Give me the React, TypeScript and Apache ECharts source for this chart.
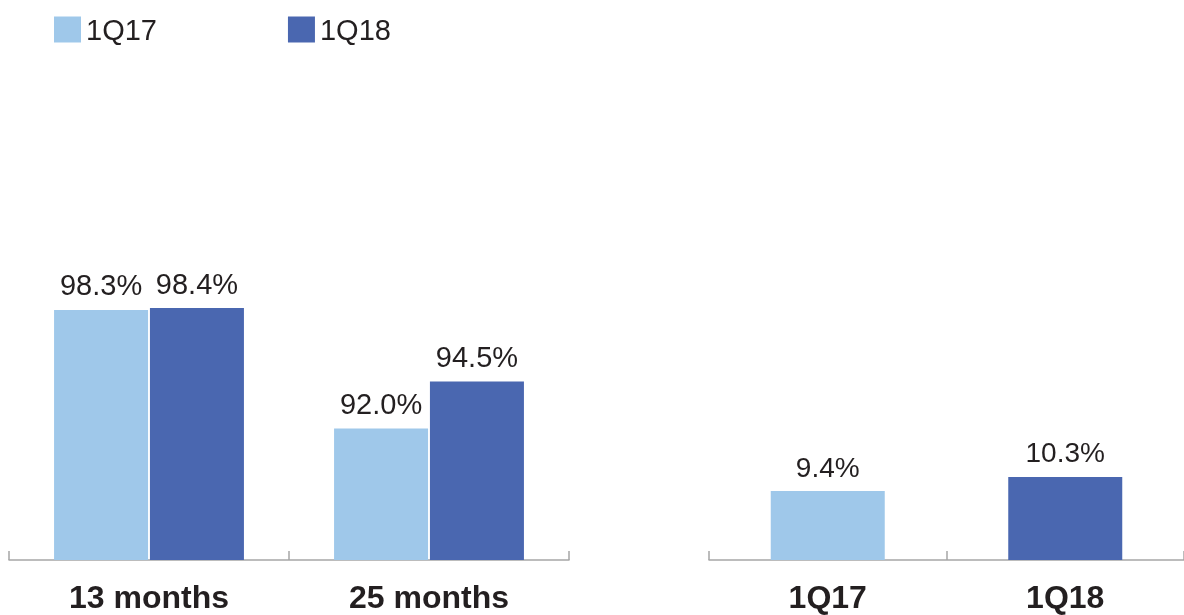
import React, { useEffect, useRef } from "react";
import * as echarts from "echarts";

const leftCategories = ["13 months", "25 months"];
const series1Q17 = [98.3, 92.0];
const series1Q18 = [98.4, 94.5];
const rightCategories = ["1Q17", "1Q18"];
const rightValues = [9.4, 10.3];

const LIGHT = "#9FC8EA";
const DARK = "#4A67B0";
const TEXT = "#231F20";
const AXIS = "#A6A6A6";
const FONT = "'Liberation Sans', Arial, Helvetica, sans-serif";

export default function App() {
  const ref = useRef<HTMLDivElement>(null);
  useEffect(() => {
    if (!ref.current) return;
    const chart = echarts.init(ref.current, undefined, { renderer: "svg" });
    const fmt = (p: any) => Number(p.value).toFixed(1) + "%";
    const labelStyle = {
      show: true,
      position: "top",
      distance: 10,
      formatter: fmt,
      fontSize: 29,
      color: TEXT,
      fontFamily: FONT,
    };
    const axisLine = { show: true, lineStyle: { color: AXIS, width: 1.5 } };
    const axisTick = { show: true, inside: true, length: 9, lineStyle: { color: AXIS, width: 1.5 } };
    chart.setOption({
      animation: false,
      textStyle: { fontFamily: FONT },
      legend: {
        data: ["1Q17", "1Q18"],
        left: 49,
        top: 10,
        icon: "rect",
        itemWidth: 27,
        itemHeight: 26,
        itemGap: 131,
        textStyle: { fontSize: 29, color: TEXT, fontFamily: FONT },
        selectedMode: false,
      },
      grid: [
        { left: 9, width: 560, top: 278, bottom: 55 },
        { left: 709, width: 480, top: 278, bottom: 55 },
      ],
      xAxis: [
        {
          type: "category",
          gridIndex: 0,
          data: leftCategories,
          axisLine,
          axisTick,
          axisLabel: { fontSize: 32, fontWeight: "bold", color: TEXT, fontFamily: FONT, margin: 21 },
        },
        {
          type: "category",
          gridIndex: 1,
          data: rightCategories,
          axisLine,
          axisTick,
          axisLabel: { fontSize: 32, fontWeight: "bold", color: TEXT, fontFamily: FONT, margin: 21 },
        },
      ],
      yAxis: [
        { type: "value", gridIndex: 0, min: 85, max: 100, show: false, splitLine: { show: false } },
        { type: "value", gridIndex: 1, min: 5, max: 23, show: false, splitLine: { show: false } },
      ],
      series: [
        {
          name: "1Q17",
          type: "bar",
          xAxisIndex: 0,
          yAxisIndex: 0,
          data: series1Q17,
          barWidth: 94,
          barGap: "2%",
          itemStyle: { color: LIGHT },
          label: labelStyle,
        },
        {
          name: "1Q18",
          type: "bar",
          xAxisIndex: 0,
          yAxisIndex: 0,
          data: series1Q18,
          barWidth: 94,
          barGap: "2%",
          itemStyle: { color: DARK },
          label: labelStyle,
        },
        {
          name: "ratio",
          type: "bar",
          xAxisIndex: 1,
          yAxisIndex: 1,
          barWidth: 114,
          data: rightValues.map((v, i) => ({
            value: v,
            itemStyle: { color: i === 0 ? LIGHT : DARK },
          })),
          label: { ...labelStyle, fontSize: 28 },
        },
      ],
    });
    return () => chart.dispose();
  }, []);
  return (
    <div
      ref={ref}
      style={{ position: "fixed", left: 0, top: 0, width: 1184, height: 615 }}
    />
  );
}
